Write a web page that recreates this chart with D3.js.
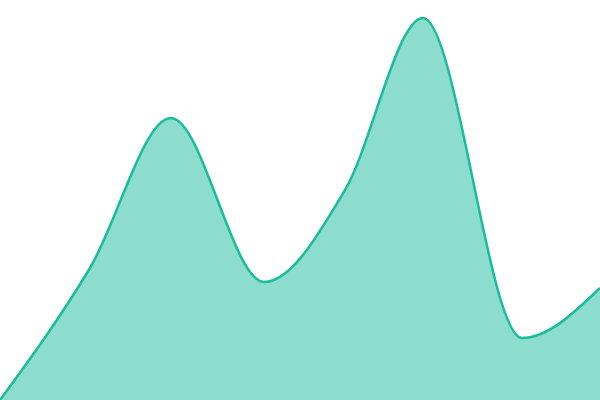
<!DOCTYPE html>
<html>
<head>
<meta charset="utf-8">
<script src="https://cdn.jsdelivr.net/npm/d3@7.9.0/dist/d3.min.js"></script>
<style>
  html, body { margin: 0; padding: 0; background: #fff; }
  svg { display: block; }
</style>
</head>
<body>
<div id="chart"></div>
<script>
// sample positions (0-100) and their values (0-100)
const xValues = [0, 15, 28.5, 44, 57.5, 70.5, 87, 100];
const yValues = [0, 33, 70.5, 29.5, 52.5, 95.5, 15.5, 28];

const width = 600;
const height = 400;

const points = xValues.map((x, i) => ({ x, y: yValues[i] }));

const xScale = d3.scaleLinear().domain([0, 100]).range([0, width]);
const yScale = d3.scaleLinear().domain([0, 100]).range([height, 0]);

const svg = d3
  .select('#chart')
  .append('svg')
  .attr('width', width)
  .attr('height', height);

const area = d3
  .area()
  .x((d) => xScale(d.x))
  .y0(yScale(0))
  .y1((d) => yScale(d.y))
  .curve(d3.curveMonotoneX);

const line = d3
  .line()
  .x((d) => xScale(d.x))
  .y((d) => yScale(d.y))
  .curve(d3.curveMonotoneX);

svg
  .append('path')
  .datum(points)
  .attr('d', area)
  .attr('fill', '#1abc9c')
  .attr('fill-opacity', 0.5);

svg
  .append('path')
  .datum(points)
  .attr('d', line)
  .attr('fill', 'none')
  .attr('stroke', '#1abc9c')
  .attr('stroke-width', 2.5);
</script>
</body>
</html>
